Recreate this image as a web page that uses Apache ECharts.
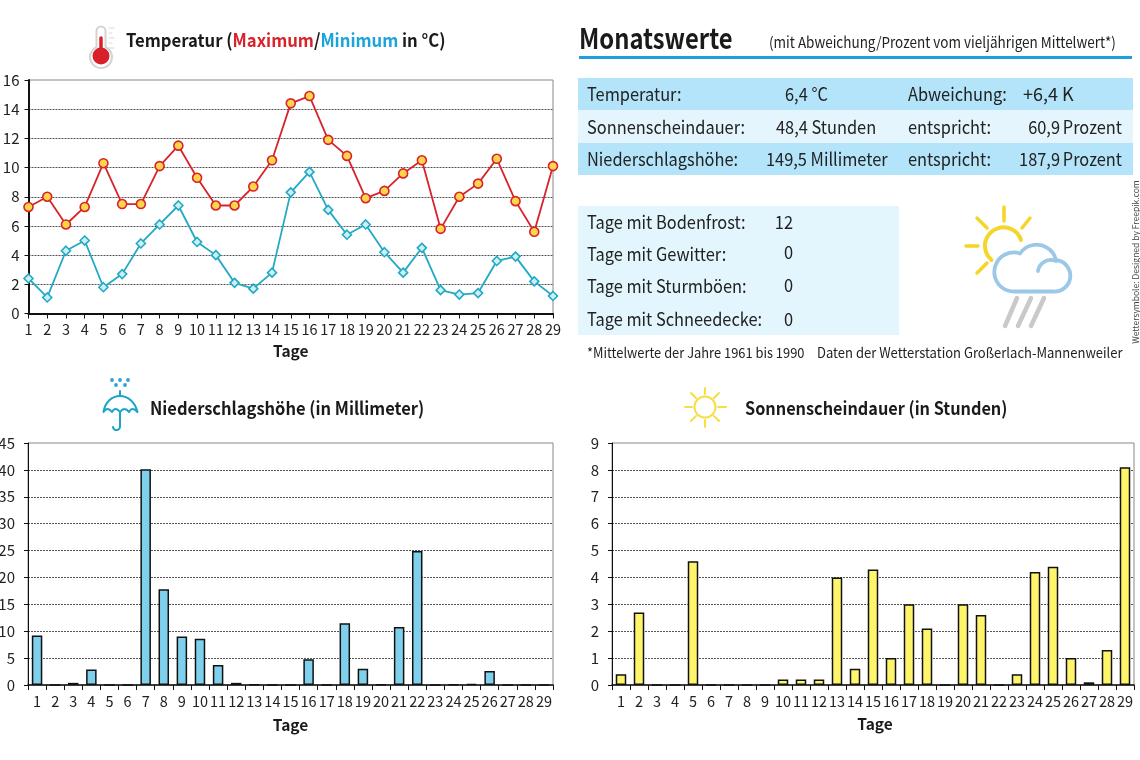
<!DOCTYPE html>
<html><head><meta charset="utf-8">
<style>html,body{margin:0;padding:0;background:#fff}#c{width:1140px;height:760px}</style>
<script src="https://cdn.jsdelivr.net/npm/echarts@6/dist/echarts.min.js"></script>
</head><body><div id="c"></div>
<script>
const days = ['1','2','3','4','5','6','7','8','9','10','11','12','13','14','15','16','17','18','19','20','21','22','23','24','25','26','27','28','29'];
const tempMax = [7.3,8,6.1,7.3,10.3,7.5,7.5,10.1,11.5,9.3,7.4,7.4,8.7,10.5,14.4,14.9,11.9,10.8,7.9,8.4,9.6,10.5,5.8,8,8.9,10.6,7.7,5.6,10.1];
const tempMin = [2.4,1.1,4.3,5,1.8,2.7,4.8,6.1,7.4,4.9,4,2.1,1.7,2.8,8.3,9.7,7.1,5.4,6.1,4.2,2.8,4.5,1.6,1.3,1.4,3.6,3.9,2.2,1.2];
const rain = [9.2,0,0.4,2.9,0,0,40.1,17.8,9,8.6,3.7,0.4,0.1,0,0,4.8,0,11.5,3,0.1,10.8,24.9,0,0.1,0.2,2.6,0,0,0];
const sun = [0.4,2.7,0,0,4.6,0,0,0,0,0.2,0.2,0.2,4,0.6,4.3,1,3,2.1,0,3,2.6,0,0.4,4.2,4.4,1,0.1,1.3,8.1];
const summaryRows = [
  ['Temperatur:','6,4 °C','Abweichung:','+6,4 K',''],
  ['Sonnenscheindauer:','48,4 Stunden','entspricht:','60,9','Prozent'],
  ['Niederschlagshöhe:','149,5 Millimeter','entspricht:','187,9','Prozent']
];
const dayCounts = [['Tage mit Bodenfrost:','12'],['Tage mit Gewitter:','0'],['Tage mit Sturmböen:','0'],['Tage mit Schneedecke:','0']];

const F = '"Noto Sans CJK SC","Noto Sans",sans-serif';
const INK = '#222';
const G = [];
let shapeId = 0;
const rect=(x,y,w,h,fill)=>G.push({type:'rect',silent:true,z:0,shape:{x,y,width:w,height:h},style:{fill}});
const txt=(x,y,text,size,opt={})=>G.push({type:'text',silent:true,z:5,x,y,rotation:opt.rot||0,scaleX:opt.sx||0.91,style:{text,x:0,y:0,fill:opt.fill||INK,font:(opt.bold?'600 ':'400 ')+size+'px '+F,align:opt.align||'left',verticalAlign:'middle',rich:opt.rich}});
const path=(d,stroke,w,fill)=>{
  const name='icon'+(shapeId++);
  echarts.graphic.registerShape(name,echarts.graphic.extendPath(d,{}));
  G.push({type:name,silent:true,z:5,style:{stroke:stroke||null,lineWidth:w||0,fill:fill||'none',lineCap:'round',lineJoin:'round'}});
};

// panel
txt(579,38,'Monatswerte',28,{bold:true,fill:'#1a1a1a',sx:0.85});
txt(769,42,'(mit Abweichung/Prozent vom vieljährigen Mittelwert*)',15,{sx:0.9});
rect(579,56,553,3,'#1f9fdc');
rect(578,78,555,32,'#b4e4fa'); rect(578,110,555,33,'#e4f5fd'); rect(578,143,555,32,'#b4e4fa');
const rowY=[94,127,159], col2=[785,776,766], col4=[1023,1060,1060];
summaryRows.forEach((r,i)=>{
  txt(587,rowY[i],r[0],18); txt(col2[i],rowY[i],r[1],18); txt(908,rowY[i],r[2],18);
  if(r[4]){txt(col4[i],rowY[i],r[3],18,{align:'right'}); txt(1122,rowY[i],r[4],18,{align:'right'});}
  else txt(col4[i],rowY[i],r[3],18,{sx:1});
});
rect(578,206,321,129,'#e3f5fd');
const cntY=[222,254,286,319], cntNumY=[222,252,285,319];
dayCounts.forEach((r,i)=>{txt(587,cntY[i],r[0],18); txt(793,cntNumY[i],r[1],18,{align:'right'});});
txt(587,353,'*Mittelwerte der Jahre 1961 bis 1990',14,{sx:0.92});
txt(817,353,'Daten der Wetterstation Großerlach-Mannenweiler',14,{sx:0.93});
txt(1136,262,'Wettersymbole: Designed by Freepik.com',8.5,{rot:Math.PI/2,align:'center',fill:'#444',sx:1});

// titles
txt(126,40,'{k|Temperatur (}{r|Maximum}{k|/}{b|Minimum}{k| in °C)}',18,{bold:true,sx:0.927,rich:{
  k:{fill:'#1a1a1a',font:'600 18px '+F},r:{fill:'#d8232a',font:'600 18px '+F},b:{fill:'#1aa3dd',font:'600 18px '+F}}});
txt(150,408,'Niederschlagshöhe (in Millimeter)',18,{bold:true,fill:'#1a1a1a',sx:0.916});
txt(745,408,'Sonnenscheindauer (in Stunden)',18,{bold:true,fill:'#1a1a1a',sx:0.903});

// thermometer
path('M96.5 47 V31 A4.5 4.5 0 0 1 105.5 31 V47 A11 11 0 1 1 96.5 47 Z','#d4d4d4',2,'#fff');
path('M101 38 V50','#d8202a',3.5);
G.push({type:'circle',silent:true,z:6,shape:{cx:101,cy:56,r:8.5},style:{fill:'#d8202a'}});
path('M109 28 H114 M109 33 H112 M109 38 H114 M109 43 H112 M109 48 H114','#d8d8d8',1.2);
// umbrella
path('M103.5 412 C105 402 112 396 120 396 C128 396 135 402 137.5 412 C134 408 131 408 129 412 C126 408 123 408 120 412 C117 408 114 408 112 412 C109 408 106 408 103.5 412 Z','#1aa5c9',2,'#fff');
path('M120 391 V396 M120 412 V426 A3.5 3.5 0 0 1 113 427','#1aa5c9',2);
[[112,380],[120,380],[128,380],[116,385],[125,385]].forEach(p=>G.push({type:'circle',silent:true,z:6,shape:{cx:p[0],cy:p[1],r:1.9},style:{fill:'#2da3d6'}}));
// sun
G.push({type:'circle',silent:true,z:6,shape:{cx:705,cy:407,r:10.5},style:{fill:'none',stroke:'#f6df45',lineWidth:2}});
path('M705 388 V394 M705 420 V427 M685 407 H692 M718 407 H726 M691 393 L696 398 M719 393 L714 398 M691 421 L696 416 M719 421 L714 416','#f6df45',2);
// weather symbol
path('M1004 207 V221 M1030 218 L1022 228 M977 218 L987 228 M966 246 H978 M977 273 L987 263','#f6d52a',3.5);
path('M1021 240 A18.5 18.5 0 1 0 991.5 260','#f6d52a',4);
path('M1014 291.5 H1053 A15.8 15.8 0 0 0 1056 260 A20 20 0 0 0 1020 253.5 A19.5 19.5 0 1 0 1014 291.5 Z','#9cc8e8',3.8,'#fff');
path('M1038 271 A13 13 0 0 1 1056 261','#9cc8e8',3.8);
path('M1017 298 L1005 326 M1031 298 L1018 326 M1044 298 L1031 326','#c9c9c9',4.5);

const grids=[
 {left:28.5,right:587,top:80,height:233.5,show:true,borderColor:'#888',borderWidth:1,backgroundColor:'transparent',outerBoundsMode:'none'},
 {left:28,right:587,top:443,height:242,show:true,borderColor:'#888',borderWidth:1,backgroundColor:'transparent',outerBoundsMode:'none'},
 {left:612,right:6,top:443,height:242,show:true,borderColor:'#888',borderWidth:1,backgroundColor:'transparent',outerBoundsMode:'none'}
];
const xa=(i,gap,nameGap,margin,pad)=>({type:'category',gridIndex:i,data:days,boundaryGap:gap,name:'Tage',nameLocation:'middle',nameGap,
  nameTextStyle:{fontFamily:F,fontSize:15.5,fontWeight:600,color:'#1a1a1a',padding:pad||0},
  axisLine:{onZero:false,lineStyle:{color:'#111',width:i?1.5:2}},
  axisTick:{show:true,alignWithLabel:!gap,length:5,inside:false,lineStyle:{color:'#111',width:1}},
  axisLabel:{interval:0,hideOverlap:false,fontFamily:F,fontSize:14.5,color:INK,margin},
  splitLine:{show:false}});
const ya=(i,max,interval,margin)=>({type:'value',gridIndex:i,min:0,max,interval,
  axisLine:{show:true,lineStyle:{color:'#111',width:i?1:2}},
  axisTick:{show:true,length:4,lineStyle:{color:'#111',width:1}},
  axisLabel:{fontFamily:F,fontSize:15,color:INK,margin},
  splitLine:{show:true,showMinLine:false,showMaxLine:false,lineStyle:{color:'#555',width:1,type:[2,1]}}});
const bar=(i,data,color)=>({type:'bar',xAxisIndex:i,yAxisIndex:i,data,barWidth:10.5,z:3,
  itemStyle:{color,borderColor:'#111',borderWidth:1.5}});
const line=(data,sym,size,lc,fc)=>({type:'line',xAxisIndex:0,yAxisIndex:0,data,symbol:sym,symbolSize:size,clip:false,z:3,showSymbol:true,
  lineStyle:{color:lc,width:1.8},itemStyle:{color:fc,borderColor:lc,borderWidth:1.6}});

const chart=echarts.init(document.getElementById('c'),null,{renderer:'canvas'});
chart.setOption({
  animation:false,backgroundColor:'#fff',
  grid:grids,
  xAxis:[xa(0,false,30,9),xa(1,true,32,9),xa(2,true,31,9,[0,0,0,4])],
  yAxis:[ya(0,16,2,9),ya(1,45,5,13),ya(2,9,1,13)],
  series:[
    line(tempMax,'circle',9,'#d8232a','#ffd54a'),
    line(tempMin,'diamond',9,'#22a9c4','#cdeff5'),
    bar(1,rain,'#7fd0ec'),
    bar(2,sun,'#fff56a')
  ],
  graphic:G
});
</script></body></html>
